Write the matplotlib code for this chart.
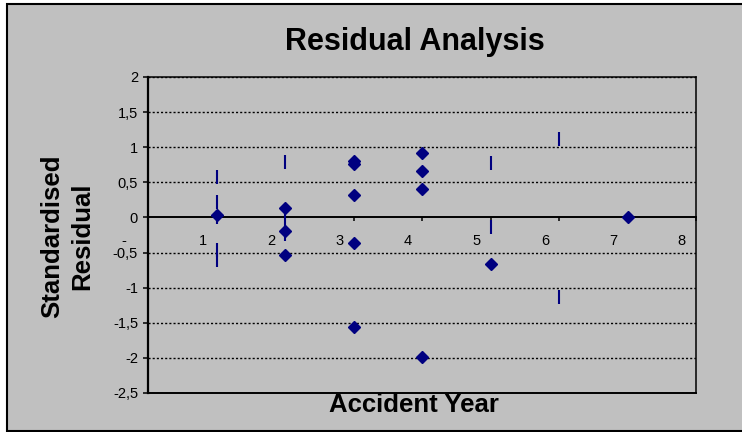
import matplotlib
matplotlib.use("Agg")
import matplotlib.pyplot as plt
import matplotlib.transforms as mtransforms
from matplotlib.patches import Rectangle

# standardised residuals by accident year (diamond series)
years_pts = [1, 2, 2, 2, 3, 3, 3, 3, 3, 4, 4, 4, 4, 5, 7]
resid_pts = [0.03, 0.14, -0.19, -0.54, 0.81, 0.76, 0.32, -0.36, -1.56,
             0.92, 0.66, 0.41, -1.99, -0.66, 0.0]

# dash-marker series
years_bar = [1, 1, 1, 1, 1, 2, 2, 2, 5, 5, 6, 6]
resid_bar = [0.57, 0.22, 0.0, -0.46, -0.60, 0.79, -0.03, -0.23,
             0.77, -0.13, 1.12, -1.14]

xticks = [0, 1, 2, 3, 4, 5, 6, 7, 8]
xlabels = ["-", "1", "2", "3", "4", "5", "6", "7", "8"]
yticks = [-2.5, -2, -1.5, -1, -0.5, 0, 0.5, 1, 1.5, 2]
ylabels = ["-2,5", "-2", "-1,5", "-1", "-0,5", "0", "0,5", "1", "1,5", "2"]

navy = "#000080"
grey = "#C0C0C0"
plt.rcParams["font.family"] = ["Liberation Sans", "DejaVu Sans"]

W, H = 742, 432
fig = plt.figure(figsize=(W / 100, H / 100), dpi=100, facecolor="white")

# chart area: grey box with black frame (right side runs off the image)
fig.patches.append(Rectangle((7 / W, 1 / H), 1.2, (431 - 4) / H,
                             transform=fig.transFigure, facecolor=grey,
                             edgecolor="black", linewidth=1.5, zorder=-5))

ax = fig.add_axes([148 / W, (H - 393) / H, (696 - 148) / W, (393 - 77) / H])
ax.set_facecolor(grey)
ax.set_xlim(0, 8)
ax.set_ylim(-2.5, 2)

# dotted horizontal gridlines
for yv in yticks:
    if yv == 0:
        continue
    ax.axhline(yv, color="black", lw=1.0, ls=(0, (1.5, 1.5)), zorder=1)

ax.plot(years_bar, resid_bar, ls="none", marker="|", ms=10, mew=1.5,
        color=navy, zorder=3)
ax.plot(years_pts, resid_pts, ls="none", marker="D", ms=6.4,
        color=navy, mec=navy, zorder=4)

# frame
for s in ["top", "right"]:
    ax.spines[s].set_linewidth(1.1)
    ax.spines[s].set_color("black")
ax.spines["left"].set_linewidth(1.6)
ax.spines["bottom"].set_position(("data", 0))
ax.spines["bottom"].set_linewidth(1.4)
ax.axhline(-2.5, color="black", lw=1.4, zorder=5, clip_on=False)

ax.set_yticks(yticks)
ax.set_yticklabels(ylabels)
ax.tick_params(axis="y", direction="out", length=3.6, width=1.1, pad=3.6,
               labelsize=10.5)
ax.set_xticks(xticks)
ax.set_xticklabels([])
ax.tick_params(axis="x", direction="out", length=3, width=1.1)

# x tick labels sit to the left of their ticks (accounting-style padding)
for xv, lab in zip(xticks, xlabels):
    dx = -22 if lab == "-" else -10
    tr = mtransforms.offset_copy(ax.transData, fig=fig, x=dx * 0.72,
                                 y=-28 * 0.72, units="points")
    ax.text(xv, 0, lab, transform=tr, ha="right", va="baseline", fontsize=10.5)

fig.text(415 / W, 1 - 50 / H, "Residual Analysis", ha="center", va="baseline",
         fontsize=22, fontweight="bold")
fig.text(414 / W, 1 - 412 / H, "Accident Year", ha="center", va="baseline",
         fontsize=18.5, fontweight="bold")
fig.text(67 / W, 1 - 236 / H, "Standardised\nResidual", ha="center",
         va="center", rotation=90, multialignment="center", fontsize=18.5,
         fontweight="bold", linespacing=1.3)

fig.savefig("out.png", dpi=100, facecolor=fig.get_facecolor())
